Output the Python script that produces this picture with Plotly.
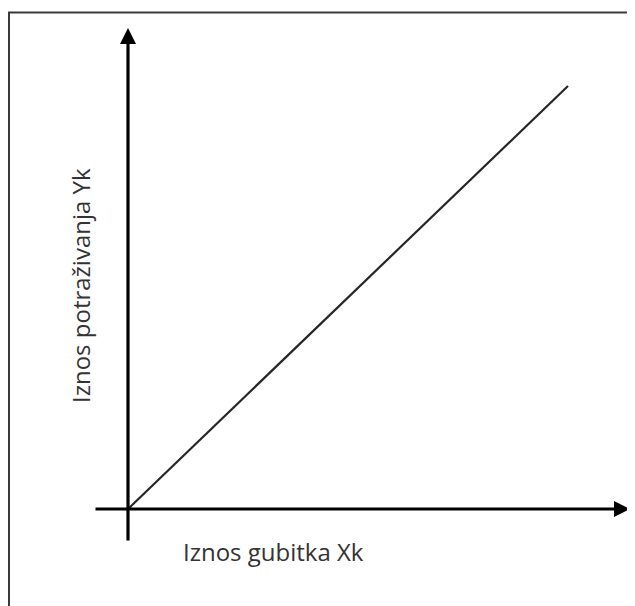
import plotly.graph_objects as go

# Data (pixel-aligned units: origin at the axes crossing)
line_x = [0, 440]
line_y = [0, 423]
x_axis_span = [-34, 502]   # horizontal axis arrow: tail, tip
y_axis_span = [-33, 481]   # vertical axis arrow: tail, tip
x_label = "Iznos gubitka Xk"
y_label = "Iznos potraživanja Yk"

# the page body adds an 8px margin, so the figure is drawn 8px smaller
W, H = 627, 598
fig = go.Figure()
fig.add_trace(go.Scatter(x=line_x, y=line_y, mode="lines",
                         line=dict(color="#262626", width=2.2),
                         hoverinfo="skip", showlegend=False))

# axes arrows
fig.add_annotation(x=x_axis_span[1], y=0, ax=x_axis_span[0], ay=0,
                   xref="x", yref="y", axref="x", ayref="y", text="",
                   showarrow=True, arrowhead=2, arrowsize=1, arrowwidth=3.2,
                   arrowcolor="#000000")
fig.add_annotation(x=0, y=y_axis_span[1], ax=0, ay=y_axis_span[0],
                   xref="x", yref="y", axref="x", ayref="y", text="",
                   showarrow=True, arrowhead=2, arrowsize=1, arrowwidth=3.2,
                   arrowcolor="#000000")

# labels
fig.add_annotation(x=53, y=-42, xref="x", yref="y", text=x_label,
                   showarrow=False, xanchor="left", yanchor="middle",
                   font=dict(family="Open Sans", size=24, color="#333333"))
fig.add_annotation(x=-48, y=223, xref="x", yref="y", text=y_label,
                   showarrow=False, textangle=-90, xanchor="center", yanchor="middle",
                   font=dict(family="Open Sans", size=24, color="#333333"))

# frame (left and top edges)
fig.add_shape(type="line", xref="paper", yref="paper",
              x0=1 / W, x1=1 / W, y0=0, y1=1 - 4.5 / H,
              line=dict(color="#3a3a3a", width=2))
fig.add_shape(type="line", xref="paper", yref="paper",
              x0=0, x1=1, y0=1 - 4.5 / H, y1=1 - 4.5 / H,
              line=dict(color="#3a3a3a", width=2))

fig.update_xaxes(range=[-120, 507], visible=False, fixedrange=True)
fig.update_yaxes(range=[-97, 501], visible=False, fixedrange=True)
fig.update_layout(width=W, height=H, margin=dict(l=0, r=0, t=0, b=0),
                  paper_bgcolor="white", plot_bgcolor="white")
fig.write_html("out.html")
